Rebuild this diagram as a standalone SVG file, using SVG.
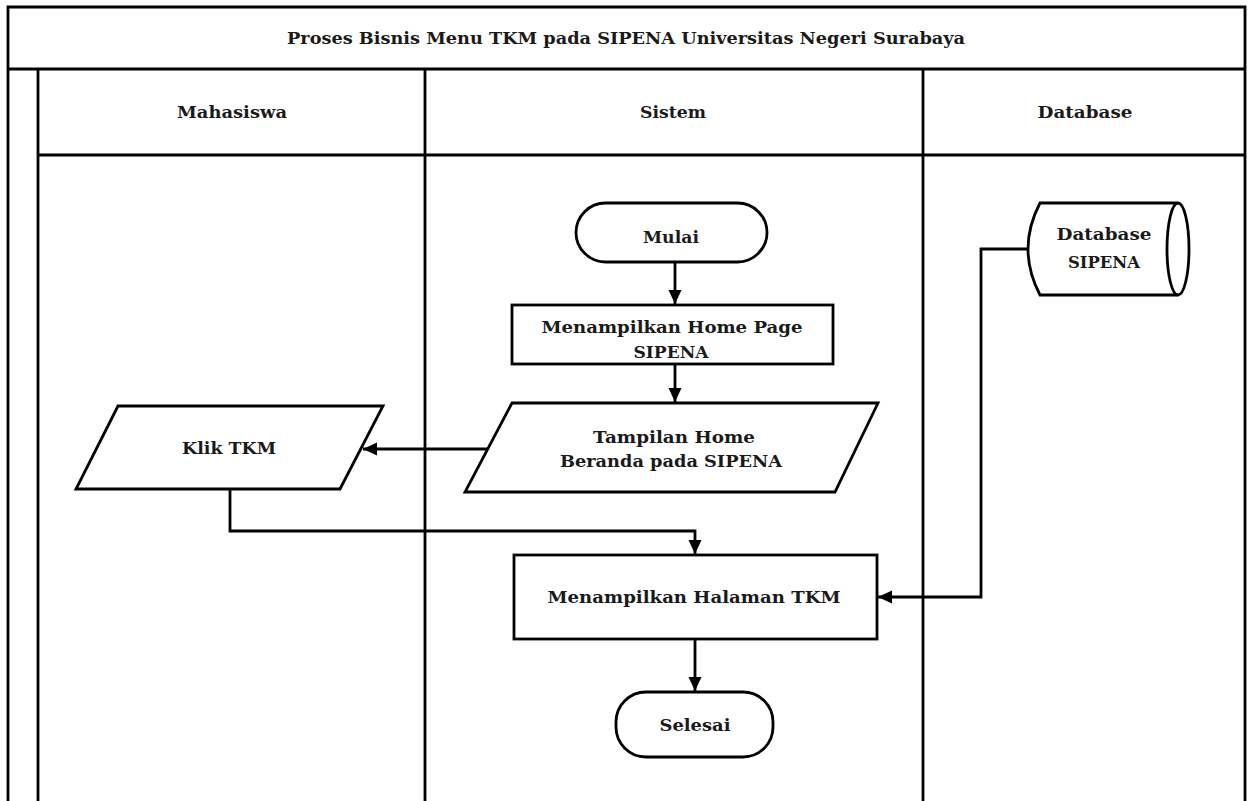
<svg xmlns="http://www.w3.org/2000/svg" width="1249" height="801" viewBox="0 0 1249 801">
<style>
.ln{fill:none;stroke:#000;stroke-width:2.8}
.sh{fill:#fff;stroke:#000;stroke-width:2.8}
.t{font-family:"DejaVu Serif","Liberation Serif",serif;font-weight:bold;font-size:16.5px;fill:#1a1a1a;text-anchor:middle}
.h{font-size:17px}
</style>
<defs>
<marker id="ah" markerUnits="userSpaceOnUse" markerWidth="16" markerHeight="16" refX="14" refY="6.5" orient="auto">
<path d="M0,0 L14,6.5 L0,13 Z" fill="#000"/>
</marker>
</defs>
<rect x="0" y="0" width="1249" height="801" fill="#fff"/>
<g id="frame">
<path class="ln" d="M8,801 V7 H1245 V801"/>
<path class="ln" d="M8,69 H1245"/>
<path class="ln" d="M38,69 V801"/>
<path class="ln" d="M38,155 H1245"/>
<path class="ln" d="M425,69 V801"/>
<path class="ln" d="M923,69 V801"/>
<text class="t h" x="626" y="44" textLength="678" lengthAdjust="spacingAndGlyphs">Proses Bisnis Menu TKM pada SIPENA Universitas Negeri Surabaya</text>
<text class="t h" x="232" y="118" textLength="110" lengthAdjust="spacingAndGlyphs">Mahasiswa</text>
<text class="t h" x="673" y="118" textLength="66" lengthAdjust="spacingAndGlyphs">Sistem</text>
<text class="t h" x="1085" y="118" textLength="95" lengthAdjust="spacingAndGlyphs">Database</text>
</g>
<g id="connectors">
<path class="ln" d="M675,262 V304" marker-end="url(#ah)"/>
<path class="ln" d="M675,364 V402" marker-end="url(#ah)"/>
<path class="ln" d="M488,449 H363" marker-end="url(#ah)"/>
<path class="ln" d="M230,489 V531 H695 V554" marker-end="url(#ah)"/>
<path class="ln" d="M1030,249 H981 V597 H878" marker-end="url(#ah)"/>
<path class="ln" d="M695,639 V691" marker-end="url(#ah)"/>
</g>
<g id="mulai">
<rect class="sh" x="576" y="203" width="191" height="59" rx="29.5" ry="29.5"/>
<text class="t" x="671" y="243" textLength="56" lengthAdjust="spacingAndGlyphs">Mulai</text>
</g>
<g id="home-page">
<rect class="sh" x="512" y="305" width="321" height="59"/>
<text class="t" x="672" y="333" textLength="261" lengthAdjust="spacingAndGlyphs">Menampilkan Home Page</text>
<text class="t" x="671" y="358" textLength="75" lengthAdjust="spacingAndGlyphs">SIPENA</text>
</g>
<g id="tampilan-home">
<polygon class="sh" points="512,403 878,403 835,492 465,492"/>
<text class="t" x="674" y="443" textLength="162" lengthAdjust="spacingAndGlyphs">Tampilan Home</text>
<text class="t" x="671" y="467" textLength="222" lengthAdjust="spacingAndGlyphs">Beranda pada SIPENA</text>
</g>
<g id="klik-tkm">
<polygon class="sh" points="118,406 383,406 340,489 76,489"/>
<text class="t" x="229" y="454" textLength="94" lengthAdjust="spacingAndGlyphs">Klik TKM</text>
</g>
<g id="halaman-tkm">
<rect class="sh" x="514" y="555" width="363" height="84"/>
<text class="t" x="694" y="603" textLength="293" lengthAdjust="spacingAndGlyphs">Menampilkan Halaman TKM</text>
</g>
<g id="database-sipena">
<path class="sh" d="M1040,203 H1178 A11,46 0 0 1 1178,295 H1040 Q1016,249 1040,203 Z"/>
<path class="ln" d="M1178,203 A11,46 0 0 0 1178,295"/>
<text class="t" x="1104" y="240" textLength="95" lengthAdjust="spacingAndGlyphs">Database</text>
<text class="t" x="1104" y="268" textLength="72" lengthAdjust="spacingAndGlyphs">SIPENA</text>
</g>
<g id="selesai">
<rect class="sh" x="616" y="692" width="157" height="65" rx="30" ry="30"/>
<text class="t" x="695" y="731" textLength="71" lengthAdjust="spacingAndGlyphs">Selesai</text>
</g>
</svg>
